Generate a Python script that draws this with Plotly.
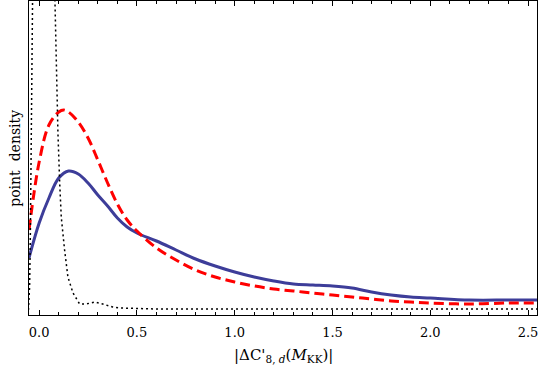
import plotly.graph_objects as go

# solid blue curve
blue_x = [-0.052, 0.0, 0.05, 0.1, 0.15, 0.2, 0.25, 0.3, 0.35, 0.4, 0.45, 0.5, 0.6, 0.7, 0.8,
          0.9, 1.0, 1.1, 1.2, 1.3, 1.4, 1.5, 1.6, 1.7, 1.8, 1.9, 2.0, 2.2, 2.4, 2.55]
blue_y = [0.57, 0.92, 1.17, 1.37, 1.44, 1.41, 1.32, 1.20, 1.09, 0.97, 0.88, 0.82, 0.74, 0.65, 0.56,
          0.49, 0.43, 0.38, 0.34, 0.31, 0.30, 0.29, 0.27, 0.23, 0.20, 0.18, 0.17, 0.15, 0.15, 0.15]

# dashed red curve
red_x = [-0.052, 0.0, 0.05, 0.1, 0.125, 0.15, 0.2, 0.25, 0.3, 0.35, 0.4, 0.45, 0.5, 0.6, 0.7,
         0.8, 0.9, 1.0, 1.1, 1.2, 1.3, 1.4, 1.5, 1.6, 1.7, 1.8, 1.9, 2.0, 2.2, 2.4, 2.55]
red_y = [0.85, 1.53, 1.90, 2.03, 2.05, 2.03, 1.93, 1.77, 1.55, 1.32, 1.11, 0.95, 0.84, 0.67, 0.55,
         0.45, 0.38, 0.33, 0.29, 0.26, 0.24, 0.22, 0.20, 0.18, 0.16, 0.14, 0.13, 0.12, 0.11, 0.12, 0.12]

# dotted black curve (peak runs off the top)
dot_x = [-0.056, -0.049, -0.045, -0.040, -0.035, -0.030, -0.02, 0.0, 0.04, 0.065, 0.079, 0.084,
         0.091, 0.096, 0.105, 0.113, 0.130, 0.147, 0.173, 0.207, 0.241, 0.284, 0.325, 0.376,
         0.41, 0.6, 1.0, 1.5, 2.0, 2.55]
dot_y = [0.0, 0.28, 0.82, 1.82, 2.82, 3.6, 6.0, 8.0, 7.0, 4.5, 3.15, 2.82,
         2.32, 1.82, 1.32, 0.98, 0.65, 0.38, 0.22, 0.11, 0.11, 0.13, 0.11, 0.08,
         0.07, 0.06, 0.06, 0.06, 0.06, 0.06]

fig = go.Figure()
fig.add_trace(go.Scatter(x=blue_x, y=blue_y, mode="lines", line_shape="spline",
                         line=dict(color="#3d3d99", width=3)))
fig.add_trace(go.Scatter(x=red_x, y=red_y, mode="lines", line_shape="spline",
                         line=dict(color="#ff0000", width=3, dash="10px,5px")))
fig.add_trace(go.Scatter(x=dot_x, y=dot_y, mode="lines",
                         line=dict(color="black", width=1.5, dash="2px,3px")))

font = dict(family="DejaVu Serif", size=13, color="black")
fig.update_layout(
    width=540, height=370,
    margin=dict(l=29, r=3, t=1, b=55),
    paper_bgcolor="white", plot_bgcolor="white",
    showlegend=False,
    font=font,
)
fig.update_xaxes(
    range=[-0.052, 2.546], tick0=0, dtick=0.5, tickformat=".1f",
    ticks="inside", ticklen=5, tickcolor="black", tickwidth=1,
    minor=dict(dtick=0.1, ticks="inside", ticklen=3, tickcolor="black"),
    showline=True, linecolor="black", linewidth=1, mirror="ticks",
    showgrid=False, zeroline=False, automargin=False,
    ticklabeloverflow="allow", ticklabelstandoff=5,
)
fig.update_yaxes(
    range=[0, 3.14], showticklabels=False, ticks="",
    showline=True, linecolor="black", linewidth=1, mirror=True,
    showgrid=False, zeroline=False, automargin=False,
)

fig.add_annotation(text="|ΔC'<sub>8, <i>d</i></sub>(<i>M</i><sub>KK</sub>)|",
                   xref="paper", yref="paper", x=0.5, y=-0.13, yanchor="middle",
                   showarrow=False, font=dict(family="DejaVu Serif", size=15, color="black"))
fig.add_annotation(text="point  density", textangle=-90,
                   xref="paper", yref="paper", x=-0.028, y=0.5, xanchor="center",
                   showarrow=False, font=dict(family="DejaVu Serif", size=14, color="black"))

# drop the browser's default 8px body margin so the figure sits at the page corner
fig.write_html("out.html", config={"displayModeBar": False},
               post_script="document.body.style.margin='0';")
